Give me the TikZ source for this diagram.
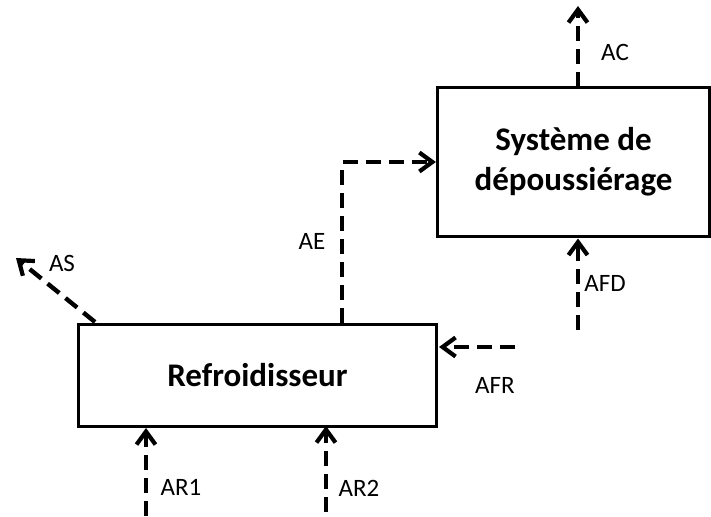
\documentclass[tikz,border=0pt]{standalone}
\usepackage{fontspec}
\setmainfont{Carlito}
\usetikzlibrary{arrows.meta}
\begin{document}
\begin{tikzpicture}[x=1pt,y=-1pt,
  blockbox/.style={draw,line width=3.2pt,minimum width=#1,inner sep=0pt,font=\bfseries\fontsize{33}{40}\selectfont,align=center},
  flow/.style={line width=4.4pt,dash pattern=on 15pt off 8pt,-{Straight Barb[length=13pt,width=19pt,line width=4.2pt]}},
  lbl/.style={font=\fontsize{25}{28}\selectfont,inner sep=0pt}]
\useasboundingbox (0,0) rectangle (711,516);
\node[blockbox=358pt,minimum height=102pt] (refr) at (257.5,375.5) {Refroidisseur};
\node[blockbox=272pt,minimum height=149pt] (sys) at (573.5,162) {Système de\\dépoussiérage};
% AS
\coordinate (asS) at (95,322);
\coordinate (asE) at (16,258);
\draw[flow] (asS) -- (asE);
\node[lbl] (as) at (62,263) {AS};
% AE
\coordinate (aeS) at (342,322.5);
\coordinate (aeC) at (342,162);
\draw[flow] (aeS) -- (aeC) -- (sys.west);
\node[lbl] (ae) at (312,241) {AE};
% AC
\coordinate (acS) at (578,87);
\coordinate (acE) at (578,6);
\draw[flow] (acS) -- (acE);
\node[lbl] (ac) at (615,52) {AC};
% AFD
\coordinate (afdS) at (578,330);
\coordinate (afdE) at (578,238.5);
\draw[flow] (afdS) -- (afdE);
\node[lbl] (afd) at (605,283) {AFD};
% AFR
\coordinate (afrS) at (515,347);
\coordinate (afrE) at (439,347);
\draw[flow] (afrS) -- (afrE);
\node[lbl] (afr) at (495,385) {AFR};
% AR1
\coordinate (ar1S) at (146,516);
\coordinate (ar1E) at (146,428);
\draw[flow] (ar1S) -- (ar1E);
\node[lbl] (ar1) at (181,487) {AR1};
% AR2
\coordinate (ar2S) at (326,512);
\coordinate (ar2E) at (326,426);
\draw[flow] (ar2S) -- (ar2E);
\node[lbl] (ar2) at (359,488) {AR2};
\end{tikzpicture}
\end{document}
